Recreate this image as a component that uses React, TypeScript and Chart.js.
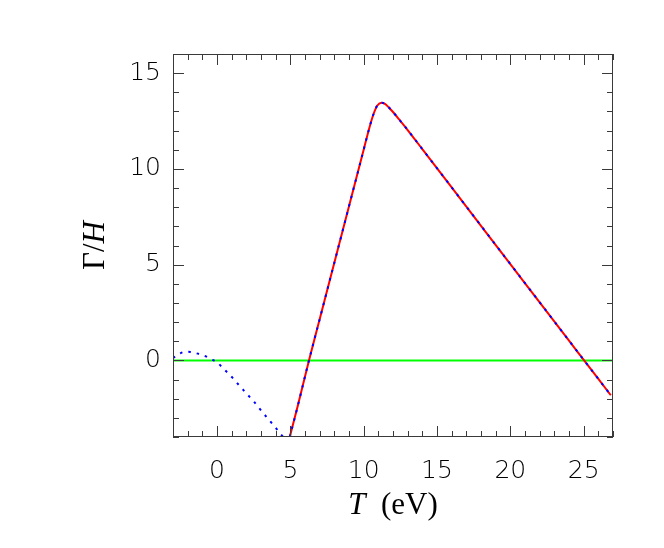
import React, { useEffect, useRef } from 'react';
import { Chart, registerables } from 'chart.js';

Chart.register(...registerables);

const X_MIN = -3;
const X_MAX = 27;
const Y_MIN = -4;
const Y_MAX = 16;

const xTickValues = [0, 5, 10, 15, 20, 25];
const yTickValues = [0, 5, 10, 15];

// Red solid curve
const redX = [4.96, 5.5, 6.27, 7.0, 8.0, 9.0, 10.0, 10.4, 10.68, 10.92, 11.2, 11.45, 11.7, 12.0, 12.4, 13.0, 14.0, 16.0, 18.0, 20.0, 22.0, 24.0, 25.03, 26.0, 26.85];
const redY = [-4.0, -2.4, 0.0, 2.15, 5.1, 8.05, 11.0, 12.18, 12.88, 13.3, 13.46, 13.4, 13.22, 12.97, 12.6, 12.03, 11.03, 9.03, 7.03, 5.03, 3.03, 1.03, 0.0, -0.97, -1.82];

// Blue dotted curve: left branch (then it follows the red curve)
const blueLeftX = [-3.0, -2.81, -2.5, -2.17, -1.8, -1.4, -1.0, -0.68, -0.3, 0.0, 0.52, 1.05, 1.53, 2.03, 2.53, 3.0, 3.49, 3.97, 4.45, 4.53];
const blueLeftY = [0.12, 0.22, 0.37, 0.45, 0.44, 0.37, 0.28, 0.18, 0.03, -0.1, -0.49, -0.9, -1.32, -1.74, -2.17, -2.61, -3.06, -3.49, -3.94, -4.0];

// Green reference line
const greenX = [-3, 27];
const greenY = [0, 0];

const framePlugin = {
  id: 'idlFrame',
  afterDraw(chart: any) {
    const { ctx, chartArea: a, scales } = chart;
    const x = scales.x;
    const y = scales.y;
    ctx.save();
    ctx.strokeStyle = '#3a3a3a';
    ctx.lineWidth = 1;
    ctx.strokeRect(a.left + 0.5, a.top + 0.5, a.right - a.left - 1, a.bottom - a.top - 1);
    ctx.beginPath();
    for (let v = X_MIN; v <= X_MAX; v++) {
      const px = Math.round(x.getPixelForValue(v)) + 0.5;
      const len = v % 5 === 0 ? 11 : 6;
      ctx.moveTo(px, a.bottom);
      ctx.lineTo(px, a.bottom - len);
      ctx.moveTo(px, a.top);
      ctx.lineTo(px, a.top + len);
    }
    for (let v = Y_MIN; v <= Y_MAX; v++) {
      const py = Math.round(y.getPixelForValue(v)) + 0.5;
      const len = v % 5 === 0 ? 11 : 6;
      ctx.moveTo(a.left, py);
      ctx.lineTo(a.left + len, py);
      ctx.moveTo(a.right, py);
      ctx.lineTo(a.right - len, py);
    }
    ctx.stroke();

    // X title: italic T + " (eV)"
    ctx.fillStyle = '#000';
    ctx.textBaseline = 'alphabetic';
    const fItal = 'italic 31px "Liberation Serif", serif';
    const fReg = '31px "Liberation Serif", serif';
    ctx.font = fItal;
    const wT = ctx.measureText('T').width;
    ctx.font = fReg;
    const wR = ctx.measureText('  (eV)').width;
    const cx = (a.left + a.right) / 2;
    const sx = cx - (wT + wR) / 2;
    ctx.font = fItal;
    ctx.textAlign = 'left';
    ctx.fillText('T', sx, 514);
    ctx.font = fReg;
    ctx.fillText('  (eV)', sx + wT, 514);

    // Y title: Γ/ + italic H, rotated
    ctx.save();
    const cy = (a.top + a.bottom) / 2;
    ctx.translate(104, cy);
    ctx.rotate(-Math.PI / 2);
    ctx.font = fReg;
    const wG = ctx.measureText('Γ/').width;
    ctx.font = fItal;
    const wH = ctx.measureText('H').width;
    const sy = -(wG + wH) / 2;
    ctx.font = fReg;
    ctx.fillText('Γ/', sy, 0);
    ctx.font = fItal;
    ctx.fillText('H', sy + wG, 0);
    ctx.restore();

    ctx.restore();
  },
};

export default function App() {
  const canvasRef = useRef<HTMLCanvasElement | null>(null);

  useEffect(() => {
    if (!canvasRef.current) return;
    const blueData = [
      ...blueLeftX.map((v, i) => ({ x: v, y: blueLeftY[i] })),
      { x: 4.75, y: null as any },
      ...redX.map((v, i) => ({ x: v, y: redY[i] })),
    ];
    const tickFont = { family: '"DejaVu Sans", sans-serif', size: 25, weight: '200' as any };
    const chart = new Chart(canvasRef.current, {
      type: 'line',
      data: {
        datasets: [
          {
            label: 'blue',
            data: blueData,
            borderColor: '#0000ff',
            borderWidth: 2,
            borderDash: [2.5, 6],
            pointRadius: 0,
            spanGaps: false,
            cubicInterpolationMode: 'monotone',
          },
          {
            label: 'red',
            data: redX.map((v, i) => ({ x: v, y: redY[i] })),
            borderColor: '#ff0000',
            borderWidth: 2,
            pointRadius: 0,
            cubicInterpolationMode: 'monotone',
          },
          {
            label: 'green',
            data: greenX.map((v, i) => ({ x: v, y: greenY[i] })),
            borderColor: '#00ff00',
            borderWidth: 2,
            pointRadius: 0,
          },
        ],
      },
      options: {
        responsive: false,
        animation: false,
        events: [],
        layout: { padding: { left: 0, top: 54, right: 51, bottom: 0 } },
        plugins: { legend: { display: false }, tooltip: { enabled: false } },
        scales: {
          x: {
            type: 'linear',
            min: X_MIN,
            max: X_MAX,
            grid: { display: false, drawTicks: false },
            border: { display: false },
            afterBuildTicks: (s: any) => {
              s.ticks = xTickValues.map((v) => ({ value: v }));
            },
            afterFit: (s: any) => {
              s.height = 111;
            },
            ticks: {
              autoSkip: false,
              maxRotation: 0,
              padding: 19,
              color: '#000',
              font: tickFont,
              callback: (v: any) => String(v),
            },
          },
          y: {
            type: 'linear',
            min: Y_MIN,
            max: Y_MAX,
            grid: { display: false, drawTicks: false },
            border: { display: false },
            afterBuildTicks: (s: any) => {
              s.ticks = yTickValues.map((v) => ({ value: v }));
            },
            afterFit: (s: any) => {
              s.width = 173;
            },
            ticks: {
              autoSkip: false,
              padding: 12,
              color: '#000',
              font: tickFont,
              callback: (v: any) => String(v),
            },
          },
        },
      },
      plugins: [framePlugin],
    });
    return () => chart.destroy();
  }, []);

  return (
    <div style={{ position: 'absolute', left: 0, top: 0, width: 664, height: 548, background: '#fff' }}>
      <canvas ref={canvasRef} width={664} height={548} />
    </div>
  );
}
